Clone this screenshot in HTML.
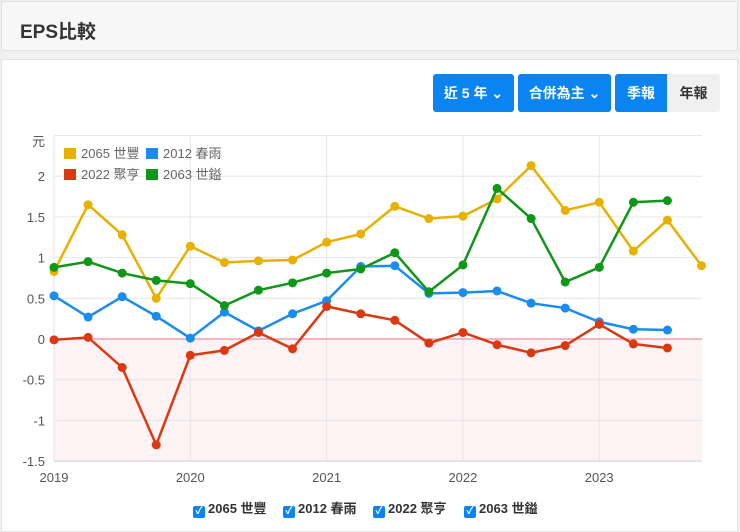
<!DOCTYPE html>
<html><head><meta charset="utf-8"><style>
body{margin:0;width:740px;height:532px;background:#f0f0f0;font-family:"Liberation Sans","Noto Sans CJK TC",sans-serif;overflow:hidden;position:relative}
.hdr{position:absolute;left:1px;top:1px;width:737px;height:50px;background:#f7f7f7;border:1px solid #e3e3e3;box-sizing:border-box}
.hdr span{position:absolute;left:18px;top:15px;font-size:19px;font-weight:bold;color:#333}
.card{position:absolute;left:1px;top:59px;width:737px;height:473px;background:#fff;border:1px solid #e3e3e3;box-sizing:border-box}
.btn{position:absolute;top:74px;height:38px;background:#0a84f0;color:#fff;font-size:14px;font-weight:bold;line-height:38px;text-align:center;border-radius:3px}
.leg{position:absolute;top:498px;font-size:13px;font-weight:bold;color:#333}
.cb{display:inline-block;width:12px;height:12px;background:#0a84f0;border-radius:2px;color:#fff;font-size:10px;line-height:12px;text-align:center;vertical-align:-1px;margin-right:3px}
</style></head><body>
<div class="hdr"><span>EPS比較</span></div>
<div class="card"></div>
<div class="btn" style="left:433px;width:81px">近 5 年 ⌄</div>
<div class="btn" style="left:518px;width:93px">合併為主 ⌄</div>
<div class="btn" style="left:615px;width:52px;border-radius:3px 0 0 3px">季報</div>
<div class="btn" style="left:667px;width:53px;background:#f0f0f0;color:#333;border-radius:0 3px 3px 0">年報</div>
<svg id="c" width="740" height="532" style="position:absolute;left:0;top:0" font-family="Liberation Sans, Noto Sans CJK TC, sans-serif"></svg>
<div class="leg" style="left:193px"><span class="cb">✓</span>2065 世豐</div>
<div class="leg" style="left:283px"><span class="cb">✓</span>2012 春雨</div>
<div class="leg" style="left:373px"><span class="cb">✓</span>2022 聚亨</div>
<div class="leg" style="left:464px"><span class="cb">✓</span>2063 世鎰</div>
<script>
const Y=v=>339-v*81.4, X=i=>54+i*34.08;
let s='';
s+=`<rect x="54" y="339" width="648" height="122" fill="#fdf3f5"/>`;
for(let v=2.5;v>=-1.5;v-=0.5){s+=`<line x1="54" x2="702" y1="${Y(v)}" y2="${Y(v)}" stroke="#e6e6e6"/>`;
 if(v<2.5) s+=`<text x="45" y="${Y(v)+5}" text-anchor="end" font-size="13" fill="#555">${v}</text>`;}
s+=`<text x="45" y="146" text-anchor="end" font-size="13" fill="#555">元</text>`;
[2019,2020,2021,2022,2023].forEach((y,k)=>{const x=54+k*136.3;s+=`<line x1="${x}" x2="${x}" y1="136" y2="461" stroke="#e6e6e6"/><text x="${x}" y="482" text-anchor="middle" font-size="13" fill="#555">${y}</text>`});
s+=`<line x1="54" x2="702" y1="339" y2="339" stroke="#f0a0b0" stroke-width="1.5"/>`;
s+=`<line x1="54" x2="702" y1="461" y2="461" stroke="#ddd" stroke-width="1.5"/>`;
const D=[
['#e8b000',[0.83,1.65,1.28,0.5,1.14,0.94,0.96,0.97,1.19,1.29,1.63,1.48,1.51,1.72,2.13,1.58,1.68,1.08,1.46,0.9]],
['#1a8cf0',[0.53,0.27,0.52,0.28,0.01,0.33,0.1,0.31,0.47,0.89,0.9,0.56,0.57,0.59,0.44,0.38,0.21,0.12,0.11]],
['#dc3912',[-0.01,0.02,-0.35,-1.3,-0.2,-0.14,0.08,-0.12,0.4,0.31,0.23,-0.05,0.08,-0.07,-0.17,-0.08,0.18,-0.06,-0.11]],
['#109618',[0.88,0.95,0.81,0.72,0.68,0.41,0.6,0.69,0.81,0.86,1.06,0.58,0.91,1.85,1.48,0.7,0.88,1.68,1.7]]];
D.forEach(([c,a])=>{s+=`<polyline fill="none" stroke="${c}" stroke-width="2.5" points="${a.map((v,i)=>X(i)+','+Y(v)).join(' ')}"/>`;
 a.forEach((v,i)=>s+=`<circle cx="${X(i)}" cy="${Y(v)}" r="4.5" fill="${c}"/>`)});
s+=`<rect x="64" y="148" width="12" height="11" fill="#e8b000"/><text x="81" y="158" font-size="13" fill="#666">2065 世豐</text>`;
s+=`<rect x="146" y="148" width="12" height="11" fill="#1a8cf0"/><text x="163" y="158" font-size="13" fill="#666">2012 春雨</text>`;
s+=`<rect x="64" y="169" width="12" height="11" fill="#dc3912"/><text x="81" y="179" font-size="13" fill="#666">2022 聚亨</text>`;
s+=`<rect x="146" y="169" width="12" height="11" fill="#109618"/><text x="163" y="179" font-size="13" fill="#666">2063 世鎰</text>`;
document.getElementById('c').innerHTML=s;
</script>
</body></html>
